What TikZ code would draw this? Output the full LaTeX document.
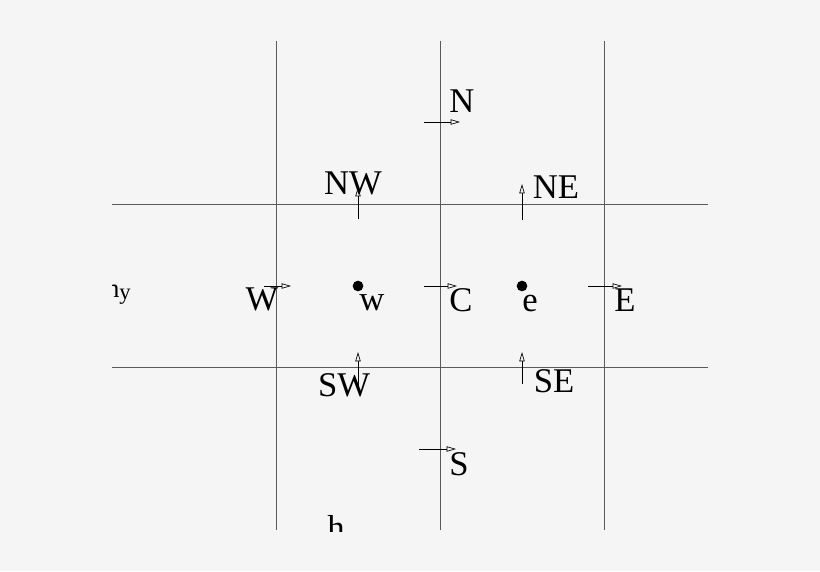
\documentclass[tikz,border=0pt]{standalone}
\usepackage{fontspec}
\setmainfont{Liberation Serif}
\usetikzlibrary{arrows.meta}
\definecolor{bgcol}{RGB}{245,245,245}
\definecolor{gridcol}{RGB}{90,90,90}

\begin{document}
\begin{tikzpicture}[
    x=0.75pt, y=-0.75pt,
    every node/.style={font=\fontsize{26}{30}\selectfont, inner sep=0pt},
    lbl/.style={anchor=base},
    gridline/.style={draw=gridcol, line width=0.6pt},
    flux/.style={-{Triangle[open, length=7pt, width=4pt]}, line width=0.5pt},
    pt/.style={circle, fill=black, minimum size=8pt}
]

% Canvas
\fill[bgcol] (0,0) rectangle (820,571);
\useasboundingbox (0,0) rectangle (820,571);

\begin{scope}
\clip (112,41) rectangle (708,531);

% Cell faces
\foreach \x in {276,440,604}
    \draw[gridline] (\x,41) -- (\x,530);
\foreach \y in {204,367}
    \draw[gridline] (112,\y) -- (708,\y);

% Grid points
\node[pt] (w) at (358,286) {};
\node[pt] (e) at (522,286) {};

% Labels
\node[lbl] (labN)  at (462,112) {N};
\node[lbl] (labNW) at (353,194) {NW};
\node[lbl] (labNE) at (556,198) {NE};
\node[lbl] (labW)  at (262,310) {W};
\node[lbl] (labw)  at (372,310) {w};
\node[lbl] (labC)  at (461,311) {C};
\node[lbl] (labe)  at (530,311) {e};
\node[lbl] (labE)  at (625,311) {E};
\node[lbl] (labSW) at (344,396) {SW};
\node[lbl] (labSE) at (554,392) {SE};
\node[lbl] (labS)  at (459,475) {S};
\node[lbl, anchor=base east] (hy) at (131,297)
    {\fontsize{20}{24}\selectfont h\raisebox{-2pt}{\fontsize{17}{20}\selectfont y}};
\node[lbl] (hx) at (336,539) {h};

% Flux arrows, horizontal
\coordinate (aN0) at (424,122); \coordinate (aN1) at (460,122);
\coordinate (aW0) at (264,286); \coordinate (aW1) at (291,286);
\coordinate (aC0) at (424,286); \coordinate (aC1) at (457,286);
\coordinate (aE0) at (588,286); \coordinate (aE1) at (622,286);
\coordinate (aS0) at (419,449); \coordinate (aS1) at (456,449);
\draw[flux] (aN0) -- (aN1);
\draw[flux] (aW0) -- (aW1);
\draw[flux] (aC0) -- (aC1);
\draw[flux] (aE0) -- (aE1);
\draw[flux] (aS0) -- (aS1);

% Flux arrows, vertical
\coordinate (aNW0) at (358,219); \coordinate (aNW1) at (358,187);
\coordinate (aNE0) at (522,220); \coordinate (aNE1) at (522,184);
\coordinate (aSW0) at (358,386); \coordinate (aSW1) at (358,352);
\coordinate (aSE0) at (522,384); \coordinate (aSE1) at (522,352);
\draw[flux] (aNW0) -- (aNW1);
\draw[flux] (aNE0) -- (aNE1);
\draw[flux] (aSW0) -- (aSW1);
\draw[flux] (aSE0) -- (aSE1);
\end{scope}

\end{tikzpicture}
\end{document}
